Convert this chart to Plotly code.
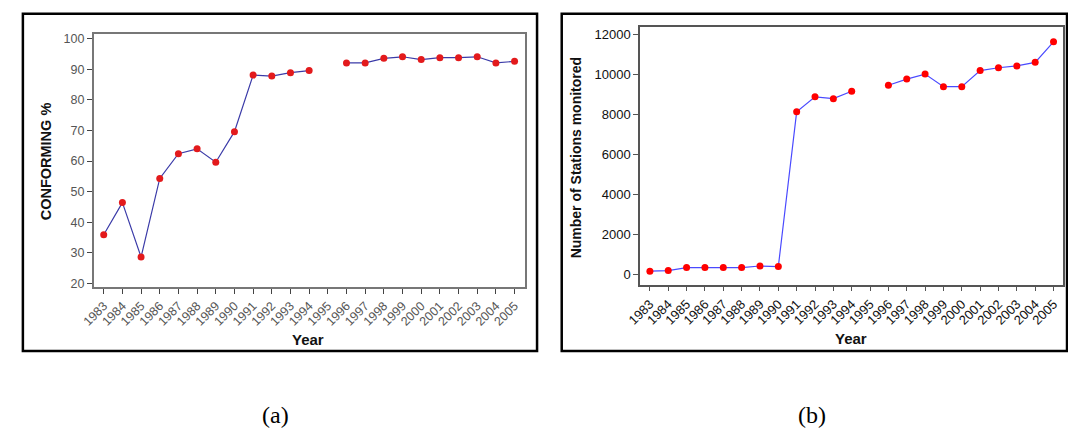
import plotly.graph_objects as go

years = list(range(1983, 2006))
year_labels = [str(y) for y in years]

conforming_pct = [35.9, 46.4, 28.6, 54.3, 62.4, 64.0, 59.6, 69.6, 88.1, 87.8, 88.9, 89.6,
                  None, 92.1, 92.1, 93.6, 94.1, 93.2, 93.8, 93.8, 94.1, 92.1, 92.6]
stations = [150, 180, 330, 330, 330, 330, 410, 380, 8140, 8890, 8800, 9170,
            None, 9470, 9780, 10030, 9400, 9400, 10210, 10350, 10440, 10620, 11650]

pct_ticks = [20, 30, 40, 50, 60, 70, 80, 90, 100]
station_ticks = [0, 2000, 4000, 6000, 8000, 10000, 12000]
station_tick_labels = ["0", "2000", "4000", "6000", "8000", "10000", "12000"]

W, H = 1068, 432
def px(x):
    return x / W
def py(y):
    return 1 - y / H

fig = go.Figure()

fig.add_trace(go.Scatter(
    x=years, y=conforming_pct, mode="lines+markers", connectgaps=False,
    line=dict(color="#3b3ba8", width=1.2),
    marker=dict(color="#e31a1c", size=7),
    xaxis="x", yaxis="y", showlegend=False))

fig.add_trace(go.Scatter(
    x=years, y=stations, mode="lines+markers", connectgaps=False,
    line=dict(color="#4a4aff", width=1.2),
    marker=dict(color="#ff0000", size=7),
    xaxis="x2", yaxis="y2", showlegend=False))

left_font = dict(family="Liberation Sans, Arial, sans-serif", size=12.5, color="#555555")
right_font = dict(family="Liberation Sans, Arial, sans-serif", size=13, color="#111111")

common_x = dict(tickmode="array", tickvals=years, ticktext=year_labels, tickangle=-45,
                showgrid=False, zeroline=False, showline=True, mirror=True,
                ticks="outside", ticklen=5, linewidth=1.5)
common_y = dict(showgrid=False, zeroline=False, showline=True, mirror=True,
                ticks="outside", ticklen=5, linewidth=1.5, tickmode="array")

fig.update_layout(
    width=W, height=H,
    margin=dict(l=0, r=0, t=0, b=0),
    paper_bgcolor="white", plot_bgcolor="white",
    xaxis=dict(domain=[px(80.7), px(518)], range=[1982.46, 2005.57], anchor="y",
               tickfont=left_font, linecolor="#777777", tickcolor="#444444", **common_x),
    yaxis=dict(domain=[py(289), py(32.3)], range=[18.8, 101.6], anchor="x",
               tickvals=pct_ticks, ticktext=[str(v) for v in pct_ticks],
               tickfont=left_font, linecolor="#777777", tickcolor="#444444", **common_y),
    xaxis2=dict(domain=[px(634.3), px(1063)], range=[1982.46, 2005.52], anchor="y2",
                tickfont=right_font, linecolor="#555555", tickcolor="#555555", **common_x),
    yaxis2=dict(domain=[py(286.7), py(25)], range=[-529, 12410], anchor="x2",
                tickvals=station_ticks, ticktext=station_tick_labels,
                tickfont=right_font, linecolor="#555555", tickcolor="#555555", **common_y),
)

# outer boxes
fig.add_shape(type="rect", xref="paper", yref="paper",
              x0=px(9), x1=px(530), y0=py(354), y1=py(12),
              line=dict(color="black", width=2.5), fillcolor="rgba(0,0,0,0)")
fig.add_shape(type="rect", xref="paper", yref="paper",
              x0=px(555), x1=px(1067), y0=py(354), y1=py(12),
              line=dict(color="black", width=2.5), fillcolor="rgba(0,0,0,0)")

bold = "Liberation Sans, Arial, sans-serif"
annots = [
    dict(text="<b>CONFORMING %</b>", x=px(32), y=py(162), textangle=-90,
         font=dict(family=bold, size=14.5, color="#111111")),
    dict(text="<b>Year</b>", x=px(298), y=py(342),
         font=dict(family=bold, size=15, color="#111111")),
    dict(text="<b>Number of Stations monitored</b>", x=px(569), y=py(158), textangle=-90,
         font=dict(family=bold, size=14, color="#111111")),
    dict(text="<b>Year</b>", x=px(848), y=py(341),
         font=dict(family=bold, size=15, color="#111111")),
    dict(text="(a)", x=px(265), y=py(419),
         font=dict(family="Liberation Serif, Times New Roman, serif", size=24, color="black")),
    dict(text="(b)", x=px(809), y=py(419),
         font=dict(family="Liberation Serif, Times New Roman, serif", size=24, color="black")),
]
for a in annots:
    fig.add_annotation(xref="paper", yref="paper", showarrow=False,
                       xanchor="center", yanchor="middle", **a)

fig.write_html("out.html", config={"displayModeBar": False},
               post_script="document.body.style.margin='0';document.body.style.overflow='hidden';")
